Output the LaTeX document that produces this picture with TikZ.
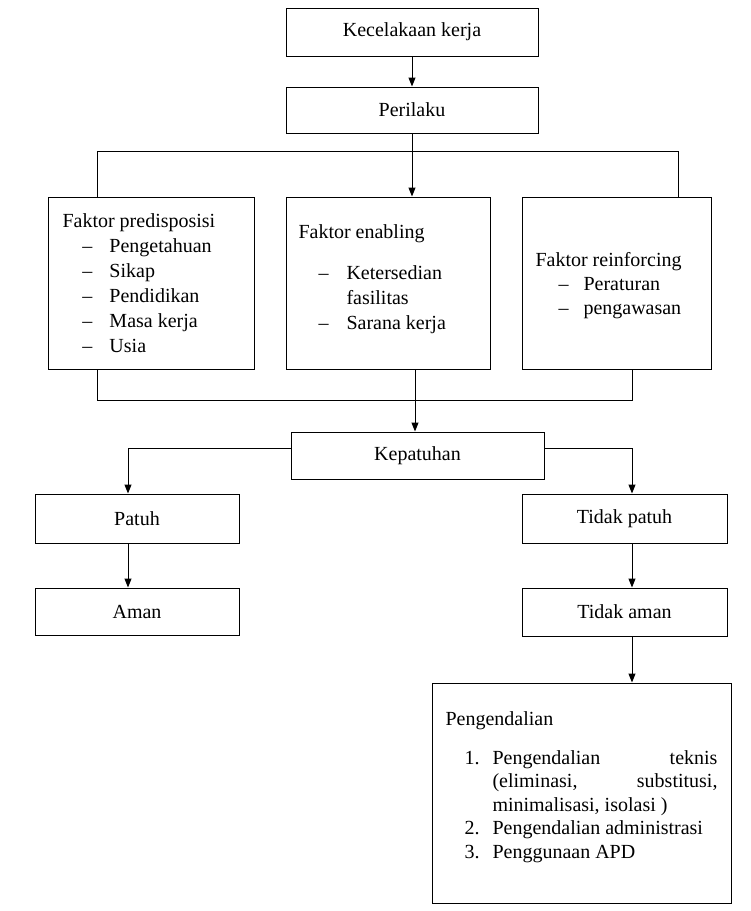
\documentclass[tikz,border=0pt]{standalone}
\usepackage{fontspec}
\setmainfont{Liberation Serif}
\usetikzlibrary{arrows.meta}
\newcommand\fs{\fontsize{20}{25}\selectfont}
\newcommand\fsp{\fontsize{20}{23.5}\selectfont}
\newcommand\ditem[3]{\hspace*{#1pt}\makebox[#2pt][l]{–}#3}
\begin{document}
\begin{tikzpicture}[x=1pt,y=-1pt, line width=1pt,
  box/.style={draw, rectangle, inner sep=0pt, font=\fs},
  arr/.style={-{Triangle[length=9pt,width=7pt]}},
  txt/.style={anchor=base west, inner sep=0pt, font=\fs}]
\useasboundingbox (0,0) rectangle (751,911);

% boxes
\node[box, minimum width=252pt, minimum height=48pt] (kec) at (412,32) {Kecelakaan kerja};
\node[box, minimum width=252pt, minimum height=46pt] (per) at (412,110) {Perilaku};
\node[box, minimum width=206pt, minimum height=172pt] (pre) at (151,283) {};
\node[box, minimum width=204pt, minimum height=172pt] (ena) at (388,283) {};
\node[box, minimum width=189pt, minimum height=172pt] (rei) at (616.5,283) {};
\node[box, minimum width=253pt, minimum height=47pt] (kep) at (417.5,455.5) {Kepatuhan};
\node[box, minimum width=204pt, minimum height=49pt] (patuh) at (137,518.5) {Patuh};
\node[box, minimum width=204pt, minimum height=47pt] (aman) at (137,611.5) {Aman};
\node[box, minimum width=205pt, minimum height=49pt] (tpatuh) at (624.5,518.5) {Tidak patuh};
\node[box, minimum width=205pt, minimum height=48pt] (taman) at (624.5,612) {Tidak aman};
\node[box, minimum width=299pt, minimum height=220pt] (peng) at (581.5,793) {};

% box texts
\node[txt] (preT) at (62,227) {\begin{tabular}[t]{@{}l@{}}
Faktor predisposisi\\
\ditem{20}{27}{Pengetahuan}\\
\ditem{20}{27}{Sikap}\\
\ditem{20}{27}{Pendidikan}\\
\ditem{20}{27}{Masa kerja}\\
\ditem{20}{27}{Usia}
\end{tabular}};

\node[txt] (enaT) at (298,238) {\begin{tabular}[t]{@{}l@{}}
Faktor enabling\\[16pt]
\ditem{20}{28}{Ketersedian}\\
\hspace*{48pt}fasilitas\\
\ditem{20}{28}{Sarana kerja}
\end{tabular}};

\node[txt] (reiT) at (535,266) {\begin{tabular}[t]{@{}l@{}}
Faktor reinforcing\\[-1pt]
\ditem{23}{25}{Peraturan}\\[-1pt]
\ditem{23}{25}{pengawasan}
\end{tabular}};

\node[txt, font=\fsp] (pengT) at (445,725) {\begin{tabular}[t]{@{}l@{}}
Pengendalian\\[15.5pt]
\hspace*{19pt}\makebox[28pt][l]{1.}\makebox[225pt][s]{Pengendalian\hfill teknis}\\
\hspace*{47pt}\makebox[225pt][s]{(eliminasi,\hfill substitusi,}\\
\hspace*{47pt}minimalisasi, isolasi )\\
\hspace*{19pt}\makebox[28pt][l]{2.}Pengendalian administrasi\\
\hspace*{19pt}\makebox[28pt][l]{3.}Penggunaan APD
\end{tabular}};

% connectors
\coordinate (hl) at (97,151);
\coordinate (hr) at (678,151);
\coordinate (bl) at (97,400);
\coordinate (br) at (632,400);
\coordinate (bm) at (415,400);
\coordinate (pl) at (128,448);
\coordinate (pr) at (632,448);

\draw[arr] (kec) -- (per);
\draw (hl |- pre.north) -- (hl) -- (hr) -- (hr |- rei.north);
\draw[arr] (per.south) -- (per.south |- ena.north);
\draw (bl |- pre.south) -- (bl) -- (br) -- (br |- rei.south);
\draw (bm |- ena.south) -- (bm);
\draw[arr] (bm) -- (bm |- kep.north);
\draw[arr] (kep.west |- pl) -- (pl) -- (pl |- patuh.north);
\draw[arr] (kep.east |- pr) -- (pr) -- (pr |- tpatuh.north);
\draw[arr] (pl |- patuh.south) -- (pl |- aman.north);
\draw[arr] (pr |- tpatuh.south) -- (pr |- taman.north);
\draw[arr] (pr |- taman.south) -- (pr |- peng.north);
\end{tikzpicture}
\end{document}
